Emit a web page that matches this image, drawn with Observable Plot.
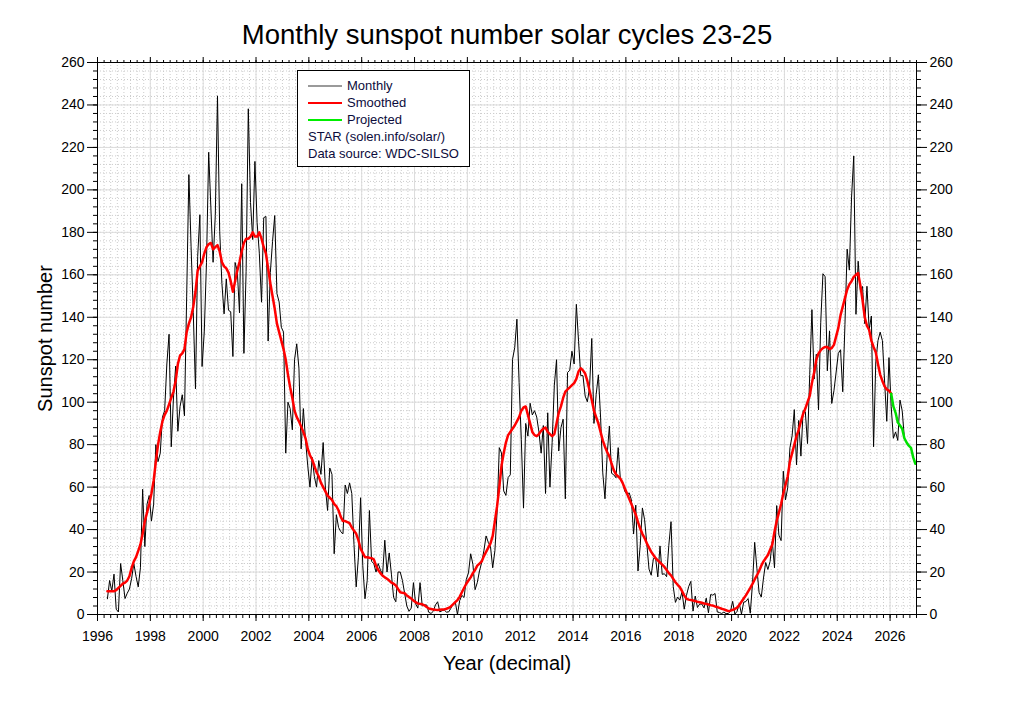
<!DOCTYPE html>
<html>
<head>
<meta charset="utf-8">
<script src="https://cdn.jsdelivr.net/npm/d3@7"></script>
<script src="https://cdn.jsdelivr.net/npm/@observablehq/plot@0.6"></script>
<style>
  body { margin: 0; background: #fff; font-family: "Liberation Sans", Arial, sans-serif; }
  #wrap { position: relative; width: 1027px; height: 707px; }
  #legend { position: absolute; left: 297px; top: 70px; width: 173px; height: 97px;
            border: 1px solid #000; background: #fff; box-sizing: border-box;
            font-size: 13px; color: #0c0c3c; }
  #legend .row { position: absolute; left: 0; height: 17px; line-height: 17px; white-space: nowrap; }
  #legend .sw { position: absolute; left: 10px; width: 34px; height: 0; border-top-style: solid; }
  #legend .tx { position: absolute; left: 49px; }
  #legend .full { position: absolute; left: 10px; }
</style>
</head>
<body>
<div id="wrap">
  <div id="chart"></div>
  <div id="legend"></div>
</div>
<script>
// ---------------- DATA ----------------
const chartTitle = "Monthly sunspot number solar cycles 23-25";
const xLabel = "Year (decimal)";
const yLabel = "Sunspot number";

// Monthly mean sunspot number, May 1996 .. Dec 2005
const monthly1996to2005 = [
  7.4, 16, 11, 19, 2.5, 1.2, 24, 16,
  7.5, 10, 12, 17, 24, 18, 13, 22, 59, 32, 52, 56,
  44, 52, 80, 72, 76, 93, 96, 118, 132, 79, 102, 117,
  86.3, 98, 103.5, 93.6, 149.6, 207.2, 173.5, 142.3, 106.3, 168.7, 188.3, 116.8,
  133.1, 165.7, 217.7, 191.5, 165.9, 188.0, 244.3, 180.5, 156.0, 141.6, 158.1, 143.3,
  142.6, 121.5, 165.8, 161.7, 142.1, 202.9, 123.0, 161.5, 238.2, 194.1, 176.6, 213.4,
  184.6, 170.2, 147.1, 186.9, 187.5, 128.8, 161.0, 175.6, 187.9, 151.2, 147.2, 135.3,
  133.0, 76.0, 100.0, 97.0, 87.0, 120.0, 127.5, 116.0, 78.0, 97.0, 82.0, 70.0,
  60.0, 74.0, 65.0, 60.0, 72.5, 66.0, 81.0, 60.0, 49.0, 69.0, 66.0, 28.6,
  47, 41, 39, 38, 61, 57, 62, 57, 33, 13, 27, 55
];
// Monthly mean sunspot number, Jan 2006 .. Dec 2015
const monthly2006to2015 = [
  23, 7.4, 16, 49, 25, 24, 20, 24, 21, 19, 35, 20,
  29, 19, 8, 6, 20, 20, 16, 10, 4, 1.5, 3, 15,
  5, 3, 15, 4, 4.5, 4.5, 1, 0.5, 1.5, 4.5, 6, 1.2,
  1.8, 2.1, 1.1, 1.2, 2.9, 5, 6, 0, 6.5, 9, 8, 16.5,
  19.6, 28.6, 23.7, 11.7, 15, 20.5, 24.5, 30, 37, 34, 32, 22,
  30, 48.3, 78.6, 76.1, 58.2, 56.1, 64.5, 65.8, 120.1, 125.7, 139.1, 109.3,
  82.5, 50.1, 90, 84, 99.5, 94, 96, 93, 86, 76, 89, 57,
  95, 60, 81, 108, 120, 77, 88, 92, 54.5, 114, 115, 124,
  118, 146.1, 128.7, 112.5, 112.5, 102.9, 100.2, 106.9, 130.0, 90.0, 103.6, 112.9,
  93.0, 66.7, 54.5, 75.3, 88.8, 66.5, 65.8, 64.4, 78.6, 63.6, 62.2, 58.0
];
// Monthly mean sunspot number, Jan 2016 .. Jul 2026
const monthly2016to2026 = [
  56.6, 57.3, 54.0, 37.9, 51.5, 20.5, 32.4, 50.2, 44.6, 33.4, 21.4, 18.5,
  26.4, 26.6, 17.7, 32.3, 18.9, 19.2, 17.8, 32.6, 43.7, 13.2, 5.7, 8.2,
  6.8, 10.7, 2.5, 8.9, 13.1, 15.6, 1.6, 8.7, 3.3, 4.9, 4.9, 3.1,
  7.7, 0.8, 9.4, 9.1, 9.9, 1.2, 0.9, 0.5, 1.1, 0.4, 0.5, 1.5,
  6.2, 0.2, 1.5, 5.2, 0.2, 5.8, 6.1, 7.5, 0.6, 14.4, 34.0, 21.8,
  10.4, 8.2, 17.2, 24.5, 21.2, 25.0, 34.4, 22.0, 51.3, 37.4, 34.8, 67.5,
  54.0, 59.7, 78.5, 84.1, 96.5, 70.5, 91.4, 74.6, 96.0, 95.5, 80.5, 113.1,
  143.6, 110.9, 122.6, 96.4, 137.4, 160.5, 159.1, 114.8, 133.6, 99.4, 105.4, 114.2,
  123.0, 124.7, 104.9, 136.5, 172.1, 162.2, 196.6, 216.0, 141.4, 166.4, 152.5, 154.5,
  137.0, 154.6, 134.2, 140.6, 79.0, 119, 129, 133, 129, 110, 91, 121,
  98, 83, 86, 82, 101, 96, 83
];

// 13-month smoothed, May 1996 .. Dec 2005
const smoothed1996to2005 = [
  11, 11, 11, 11, 11.5, 12.5, 13.5, 14.5,
  15, 16, 18, 22, 25, 27, 30, 33, 38, 44, 48, 52,
  57, 63, 72, 80, 86, 91, 94, 96, 99, 102, 105, 110,
  118, 122, 123, 125, 133, 137, 140, 145, 152, 162, 164, 166,
  170, 173, 174.5, 175, 172, 173, 174, 171, 166, 164, 163, 161,
  157, 152, 157, 162, 166, 171, 175, 177, 177, 178, 180, 178,
  178, 180, 177, 173, 170, 163, 156, 150, 144, 137, 133, 129,
  125, 120, 113, 107, 102, 96, 93, 91, 88.5, 86, 83, 78,
  75, 73, 70, 67, 65, 62, 60, 58, 56, 55, 54, 52,
  51, 49, 46, 44, 44, 43.5, 43, 41, 39.5, 38, 35, 31
];
// 13-month smoothed, Jan 2006 .. Dec 2015
const smoothed2006to2015 = [
  29, 27, 27, 26.7, 26.5, 26, 23, 21, 19.5, 18.3, 17.5, 16.8,
  16, 15, 14.5, 13.7, 12, 10.5, 10.2, 10, 9, 8.2, 7.5, 6.6,
  5.8, 5.2, 5, 4.8, 4.3, 3.5, 2.8, 2.6, 2.4, 2.2, 2.1, 2.2,
  2.3, 2.4, 2.7, 3.1, 3.8, 4.8, 5.8, 6.8, 8.3, 10.5, 12.5, 14.5,
  16, 17.5, 19.5, 21, 23, 24, 25, 27.5, 29.5, 31.5, 33.5, 37,
  44, 51, 60, 70, 76, 81, 84.5, 86, 87.5, 89, 91, 93,
  96, 97.5, 98, 94, 90, 86, 84.5, 84, 85, 86.5, 87.5, 88,
  86, 85, 84, 85, 90, 95, 98, 102, 105, 106, 107, 108,
  109, 111, 114.5, 116, 115, 113.5, 110, 105.5, 101, 96, 93, 90,
  86, 82, 79, 76.5, 74.5, 71, 68, 66, 65, 64, 62, 59.5
];
// 13-month smoothed, Jan 2016 .. Jan 2026
const smoothed2016to2026 = [
  57, 54.5, 52, 49.5, 47, 43.5, 40.5, 38, 36, 33.5, 31.5, 29.5,
  28, 26.5, 25.5, 24.5, 23.5, 22.4, 21, 19.5, 18.4, 16.8, 15.2, 14,
  12.9, 11, 9, 7.4, 7, 6.8, 6.6, 6.3, 6, 5.8, 5.5, 5.2,
  5, 4.7, 4.4, 4.2, 3.8, 3.5, 3.1, 2.7, 2.4, 2, 1.6, 1.8,
  2.2, 2.6, 3.2, 4.5, 6, 7.5, 9, 10.8, 12.5, 14.4, 16.5, 18.4,
  20.5, 23, 25, 26.5, 28, 30.5, 33, 39, 44, 48, 52, 57,
  61, 65, 72, 76, 80, 84, 87, 91, 94.5, 97, 100, 103,
  109, 114, 120, 123, 124.5, 125.5, 126, 126, 125, 125.5, 127, 131,
  135, 141, 145, 149, 153, 155.5, 157, 159, 160, 160.8, 155, 148,
  140, 136, 134, 129, 126, 123.5, 118, 113, 110, 107.5, 106, 105.5,
  104
];
// Projected smoothed, Jan 2026 .. Dec 2026
const projected2026 = [104, 98, 95, 90.5, 89, 87.5, 83, 81, 79.5, 78.5, 74, 71];

// Axis ticks
const xMajorTicks = d3.range(1996, 2027, 2);
const xMinorTicks = d3.range(1996, 2027.001, 0.25);
const yMajorTicks = d3.range(0, 261, 20);
const yMinorTicks = d3.range(0, 261, 4);

// Legend entries
const legendItems = [
  {label: "Monthly", color: "#9a9a9a"},
  {label: "Smoothed", color: "#ff0000"},
  {label: "Projected", color: "#00ee00"}
];
const legendNotes = ["STAR (solen.info/solar/)", "Data source: WDC-SILSO"];

// ---------------- BUILD ----------------
function series(values, y0, m0) {
  return values.map((v, i) => ({t: y0 + (m0 - 1 + i + 0.5) / 12, v}));
}
const monthly = series([...monthly1996to2005, ...monthly2006to2015, ...monthly2016to2026], 1996, 5);
const smoothed = series([...smoothed1996to2005, ...smoothed2006to2015, ...smoothed2016to2026], 1996, 5);
const projected = series(projected2026, 2026, 1);

const noLabel = () => "";
const chart = Plot.plot({
  width: 1027,
  height: 707,
  marginLeft: 97,
  marginRight: 111,
  marginTop: 62,
  marginBottom: 93,
  style: {fontFamily: "'Liberation Sans', Arial, sans-serif", fontSize: "14px", background: "#fff", color: "#000"},
  x: {domain: [1996, 2027]},
  y: {domain: [0, 260]},
  marks: [
    Plot.gridX(xMinorTicks, {stroke: "#cccccc", strokeOpacity: 1, strokeDasharray: "1,2"}),
    Plot.gridY(yMinorTicks, {stroke: "#cccccc", strokeOpacity: 1, strokeDasharray: "1,2"}),
    Plot.gridX(xMajorTicks, {stroke: "#dcdcdc", strokeOpacity: 1}),
    Plot.gridY(yMajorTicks, {stroke: "#dcdcdc", strokeOpacity: 1}),
    Plot.line(monthly, {x: "t", y: "v", stroke: "#000", strokeWidth: 1}),
    Plot.line(smoothed, {x: "t", y: "v", stroke: "#ff0000", strokeWidth: 2.5}),
    Plot.line(projected, {x: "t", y: "v", stroke: "#00e000", strokeWidth: 2.5}),
    Plot.frame({stroke: "#000"}),
    // bottom axis
    Plot.axisX(xMajorTicks, {anchor: "bottom", tickSize: 7, tickPadding: 10, tickFormat: d => String(d), label: null, fontSize: 14}),
    Plot.axisX(xMinorTicks, {anchor: "bottom", tickSize: 4, tickFormat: noLabel, label: null}),
    // top axis (ticks only)
    Plot.axisX(xMajorTicks, {anchor: "top", tickSize: 6, tickFormat: noLabel, label: null}),
    Plot.axisX(xMinorTicks, {anchor: "top", tickSize: 3, tickFormat: noLabel, label: null}),
    // left & right axes
    Plot.axisY(yMajorTicks, {anchor: "left", tickSize: 10, tickPadding: 3, tickFormat: d => String(d), label: null, fontSize: 14}),
    Plot.axisY(yMinorTicks, {anchor: "left", tickSize: 4, tickFormat: noLabel, label: null}),
    Plot.axisY(yMajorTicks, {anchor: "right", tickSize: 10, tickPadding: 3, tickFormat: d => String(d), label: null, fontSize: 14}),
    Plot.axisY(yMinorTicks, {anchor: "right", tickSize: 4, tickFormat: noLabel, label: null}),
    // titles
    Plot.text([chartTitle], {frameAnchor: "top", dy: -27, lineAnchor: "middle", textAnchor: "middle", fontSize: 27.5, fill: "#000"}),
    Plot.text([xLabel], {frameAnchor: "bottom", dy: 49, lineAnchor: "middle", textAnchor: "middle", fontSize: 20, fill: "#000"}),
    Plot.text([yLabel], {frameAnchor: "left", dx: -52, rotate: -90, lineAnchor: "middle", textAnchor: "middle", fontSize: 20, fill: "#000"})
  ]
});
document.getElementById("chart").appendChild(chart);

// legend
const leg = document.getElementById("legend");
const rowTops = [6, 23, 40, 57, 74];
legendItems.forEach((it, i) => {
  const row = document.createElement("div");
  row.className = "row";
  row.style.top = rowTops[i] + "px";
  row.style.width = "100%";
  const sw = document.createElement("div");
  sw.className = "sw";
  sw.style.top = "8px";
  sw.style.borderTopColor = it.color;
  sw.style.borderTopWidth = (i === 0 ? 2 : 2.5) + "px";
  const tx = document.createElement("span");
  tx.className = "tx";
  tx.textContent = it.label;
  row.appendChild(sw); row.appendChild(tx);
  leg.appendChild(row);
});
legendNotes.forEach((n, j) => {
  const row = document.createElement("div");
  row.className = "row";
  row.style.top = rowTops[3 + j] + "px";
  const tx = document.createElement("span");
  tx.className = "full";
  tx.textContent = n;
  row.appendChild(tx);
  leg.appendChild(row);
});
</script>
</body>
</html>
